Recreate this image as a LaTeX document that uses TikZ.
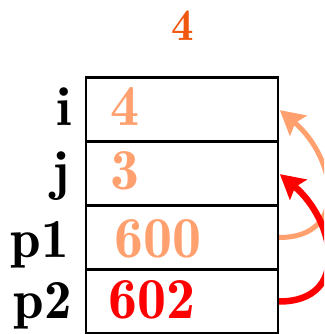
\documentclass[tikz,border=0pt]{standalone}
\usepackage{tikz}
\usetikzlibrary{arrows.meta}
\definecolor{valsalmon}{RGB}{255,160,110}
\definecolor{topred}{RGB}{240,88,16}

\begin{document}
\begin{tikzpicture}[x=1pt,y=1pt]
\tikzset{cell/.style={draw,line width=2.2pt,minimum width=192pt,minimum height=64pt,inner sep=0pt},
  lab/.style={anchor=base east,inner sep=0pt,font=\fontsize{55}{60}\fontseries{b}\selectfont},
  val/.style={anchor=base west,inner sep=0pt,font=\fontsize{58}{60}\fontseries{b}\selectfont},
  ptr/.style={-{Stealth[length=24pt,width=26pt,inset=4pt]},line width=5pt,looseness=1.45,shorten >=1pt}}
\useasboundingbox (0,0) rectangle (324,334);
\clip (0,0) rectangle (324,334);
% the result printed above the memory cells
\node[anchor=base,inner sep=0pt,text=topred,font=\fontsize{45}{48}\fontseries{b}\selectfont] (res) at (182.5,293) {4};
% four memory cells, one per variable
\node[cell] (ri) at (182,224.5) {};
\node[cell] (rj) at (182,160.5) {};
\node[cell] (rp1) at (182,96.5) {};
\node[cell] (rp2) at (182,32.5) {};
\node[lab] (li) at (72,208) {i};
\node[lab] (lj) at (70,144) {j};
\node[lab] (lp1) at (69,76) {p1};
\node[lab] (lp2) at (72,15) {p2};
\node[val,text=valsalmon] (vi) at (110,208) {4};
\node[val,text=valsalmon] (vj) at (110,144) {3};
\node[val,text=valsalmon] (vp1) at (114,76) {600};
\node[val,text=red] (vp2) at (108,15) {602};
% pointers back to the cells they hold
\draw[ptr,valsalmon] (rp1.east) to[out=0,in=-40] (ri.east);
\draw[ptr,red,line width=6.5pt] (rp2.east) to[out=0,in=-40] (rj.east);
\end{tikzpicture}
\end{document}
